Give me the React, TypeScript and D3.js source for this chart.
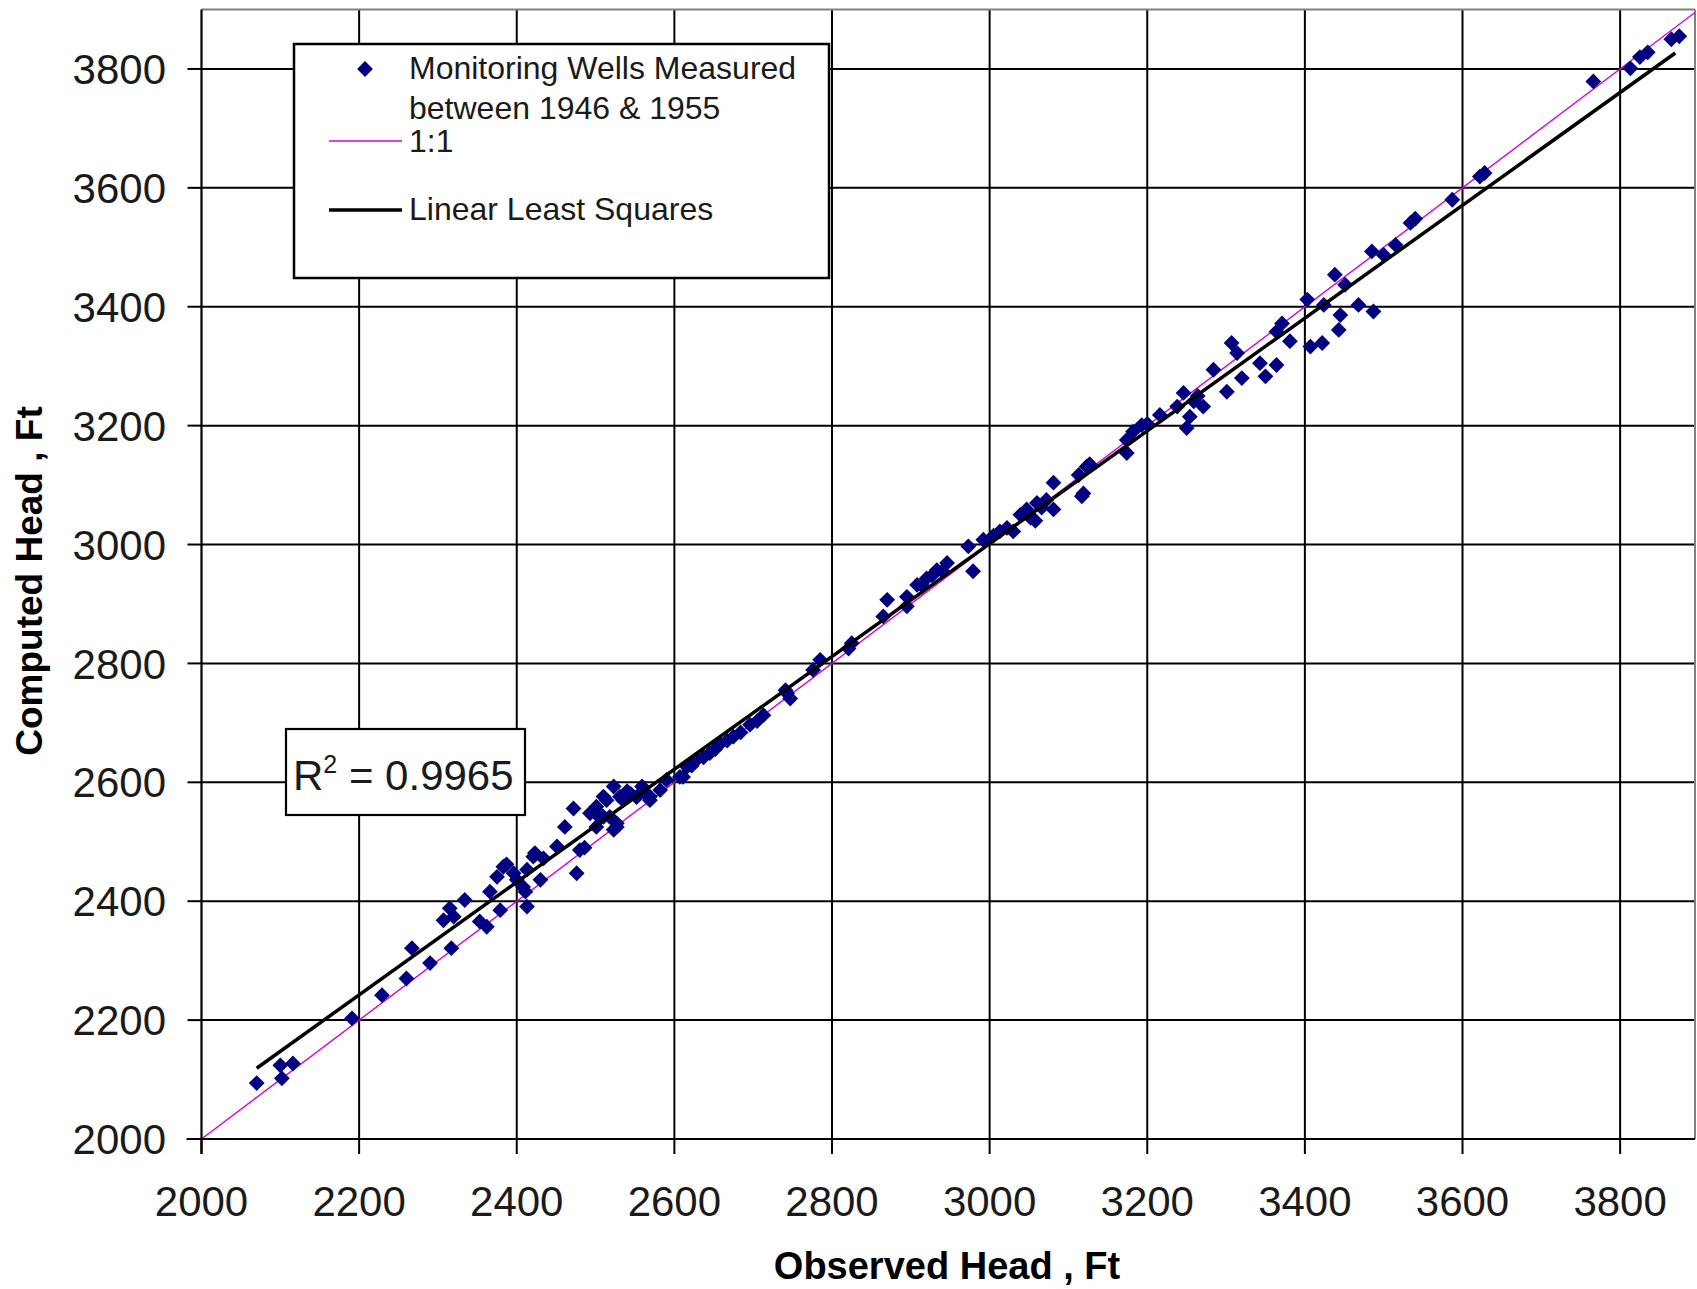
import React from "react";
import * as d3 from "d3";

// Observed head (ft) of each monitoring well
const observed = [
  2070, 2100, 2102, 2116, 2191, 2229, 2260, 2267, 2290, 2307, 2315, 2317, 2320, 2334, 2353,
  2362, 2366, 2375, 2379, 2383, 2387, 2396, 2400, 2408, 2411, 2413, 2413, 2421, 2423, 2430,
  2434, 2451, 2461, 2472, 2476, 2480, 2486, 2493, 2501, 2501, 2501, 2506, 2510, 2510, 2514,
  2518, 2523, 2523, 2527, 2527, 2531, 2535, 2540, 2545, 2552, 2559, 2560, 2569, 2569, 2582,
  2590, 2607, 2611, 2616, 2622, 2628, 2637, 2645, 2652, 2658, 2667, 2675, 2684, 2696, 2705,
  2713, 2741, 2743, 2747, 2776, 2785, 2821, 2825, 2865, 2870, 2895, 2895, 2908, 2915, 2920,
  2927, 2933, 2940, 2946, 2979, 2973, 2992, 3005, 3013, 3022, 3030, 3039, 3047, 3052, 3058,
  3060, 3066, 3072, 3081, 3081, 3113, 3117, 3119, 3123, 3127, 3174, 3174, 3182, 3193, 3200,
  3216, 3238, 3246, 3250, 3254, 3259, 3264, 3271, 3284, 3301, 3307, 3314, 3320, 3343, 3350,
  3364, 3364, 3371, 3381, 3403, 3407, 3422, 3424, 3438, 3443, 3445, 3451, 3468, 3487, 3485,
  3500, 3515, 3534, 3540, 3587, 3622, 3628, 3766, 3813, 3825, 3835, 3865, 3875,
];

// Computed head (ft) of the same wells, in the same order
const computed = [
  2094, 2124, 2102, 2127, 2203, 2242, 2270, 2321, 2296, 2368, 2388, 2321, 2374, 2402, 2366,
  2357, 2416, 2441, 2385, 2458, 2462, 2447, 2436, 2424, 2416, 2391, 2453, 2475, 2481, 2436,
  2472, 2492, 2525, 2556, 2447, 2486, 2490, 2548, 2553, 2525, 2559, 2540, 2542, 2576, 2570,
  2542, 2593, 2520, 2525, 2531, 2576, 2570, 2585, 2580, 2575, 2593, 2585, 2570, 2576, 2587,
  2604, 2609, 2609, 2626, 2628, 2638, 2642, 2649, 2656, 2665, 2670, 2677, 2684, 2697, 2703,
  2713, 2755, 2750, 2741, 2789, 2806, 2825, 2834, 2879, 2907, 2896, 2912, 2932, 2930, 2943,
  2948, 2957, 2955, 2969, 2955, 2997, 3008, 3015, 3022, 3028, 3022, 3050, 3059, 3045, 3040,
  3070, 3062, 3075, 3059, 3104, 3117, 3081, 3086, 3131, 3135, 3154, 3176, 3190, 3201, 3203,
  3218, 3232, 3255, 3196, 3215, 3241, 3250, 3232, 3294, 3257, 3339, 3322, 3280, 3305, 3283,
  3302, 3358, 3372, 3342, 3412, 3333, 3339, 3403, 3454, 3361, 3386, 3437, 3403, 3392, 3493,
  3487, 3504, 3541, 3548, 3580, 3619, 3625, 3779, 3801, 3820, 3828, 3850, 3855,
];

// Linear least squares fit: computed = slope * observed + intercept
const trendSlope = 0.9488;
const trendIntercept = 155;
const rSquared = "0.9965";

const xTicks = [2000, 2200, 2400, 2600, 2800, 3000, 3200, 3400, 3600, 3800];
const yTicks = [2000, 2200, 2400, 2600, 2800, 3000, 3200, 3400, 3600, 3800];

const legendLabels = ["Monitoring Wells Measured", "between 1946 & 1955", "1:1", "Linear Least Squares"];
const xTitle = "Observed Head , Ft";
const yTitle = "Computed Head , Ft";

const W = 1697;
const H = 1289;
const FONT = "Arial, 'Liberation Sans', sans-serif";
const NAVY = "#000080";
const MAGENTA = "#d800d8";

export default function App() {
  const left = 201.5;
  const right = 1695;
  const top = 9.5;
  const bottom = 1139;

  const x = d3.scaleLinear().domain([2000, 3895]).range([left, right]);
  const y = d3.scaleLinear().domain([2000, 3900]).range([bottom, top]);

  const diamond = d3.symbol(d3.symbolSquare, 125)();

  const pts = observed.map((o, i) => [o, computed[i]] as [number, number]);
  const xMin = d3.min(observed) as number;
  const xMax = d3.max(observed) as number;

  const line = d3
    .line<[number, number]>()
    .x((d) => x(d[0]))
    .y((d) => y(d[1]));

  const oneToOne: [number, number][] = [
    [2000, 2000],
    [3895, 3895],
  ];
  const trend: [number, number][] = [
    [xMin, trendSlope * xMin + trendIntercept],
    [xMax - 5, trendSlope * (xMax - 5) + trendIntercept],
  ];

  return (
    <svg
      width={W}
      height={H}
      viewBox={`0 0 ${W} ${H}`}
      style={{ position: "absolute", left: 0, top: 0, background: "#fff" }}
    >
      <rect x={0} y={0} width={W} height={H} fill="#fff" />
      <defs>
        <clipPath id="plotClip">
          <rect x={left} y={top} width={right - left} height={bottom - top} />
        </clipPath>
      </defs>

      {/* gridlines */}
      {xTicks
        .filter((t) => t > 2000)
        .map((t) => (
          <line key={"gx" + t} x1={x(t)} x2={x(t)} y1={top} y2={bottom} stroke="#000" strokeWidth={2} />
        ))}
      {yTicks
        .filter((t) => t > 2000)
        .map((t) => (
          <line key={"gy" + t} x1={left} x2={right} y1={y(t)} y2={y(t)} stroke="#000" strokeWidth={2} />
        ))}

      {/* plot frame */}
      <line x1={left} x2={right} y1={top} y2={top} stroke="#808080" strokeWidth={2} />
      <line x1={right} x2={right} y1={top} y2={bottom} stroke="#808080" strokeWidth={2} />

      <g clipPath="url(#plotClip)">
        <path d={line(oneToOne) || ""} stroke={MAGENTA} strokeWidth={1.4} fill="none" />
        {pts.map((p, i) => (
          <path
            key={"p" + i}
            d={diamond || ""}
            transform={`translate(${x(p[0])},${y(p[1])}) rotate(45)`}
            fill={NAVY}
          />
        ))}
        <path d={line(trend) || ""} stroke="#000" strokeWidth={3.5} fill="none" />
      </g>

      {/* axes */}
      <line x1={left} x2={left} y1={top} y2={bottom + 15} stroke="#000" strokeWidth={2.2} />
      <line x1={left - 15} x2={right} y1={bottom} y2={bottom} stroke="#000" strokeWidth={2.2} />
      {xTicks.map((t) => (
        <g key={"xt" + t}>
          <line x1={x(t)} x2={x(t)} y1={bottom} y2={bottom + 15} stroke="#000" strokeWidth={2} />
          <text x={x(t)} y={1216} textAnchor="middle" fontFamily={FONT} fontSize={42} fill="#1a1a1a">
            {t}
          </text>
        </g>
      ))}
      {yTicks.map((t) => (
        <g key={"yt" + t}>
          <line x1={left - 14} x2={left} y1={y(t)} y2={y(t)} stroke="#000" strokeWidth={2} />
          <text
            x={166}
            y={y(t)}
            dy="0.36em"
            textAnchor="end"
            fontFamily={FONT}
            fontSize={42}
            fill="#1a1a1a"
          >
            {t}
          </text>
        </g>
      ))}

      {/* axis titles */}
      <text x={947} y={1279} textAnchor="middle" fontFamily={FONT} fontWeight="bold" fontSize={38} fill="#000">
        {xTitle}
      </text>
      <text
        transform={`translate(42,581) rotate(-90)`}
        textAnchor="middle"
        fontFamily={FONT}
        fontWeight="bold"
        fontSize={37}
        fill="#000"
      >
        {yTitle}
      </text>

      {/* legend */}
      <g>
        <rect x={294} y={44} width={535} height={234} fill="#fff" stroke="#000" strokeWidth={2.5} />
        <path d={diamond || ""} transform="translate(365,69) rotate(45)" fill={NAVY} />
        <text x={409} y={79} fontFamily={FONT} fontSize={32} fill="#1a1a1a">
          {legendLabels[0]}
        </text>
        <text x={409} y={119} fontFamily={FONT} fontSize={32} fill="#1a1a1a">
          {legendLabels[1]}
        </text>
        <line x1={329} x2={402} y1={141} y2={141} stroke={MAGENTA} strokeWidth={1.6} />
        <text x={409} y={152} fontFamily={FONT} fontSize={32} fill="#1a1a1a">
          {legendLabels[2]}
        </text>
        <line x1={329} x2={402} y1={210} y2={210} stroke="#000" strokeWidth={3.5} />
        <text x={409} y={220} fontFamily={FONT} fontSize={32} fill="#1a1a1a">
          {legendLabels[3]}
        </text>
      </g>

      {/* R squared box */}
      <g>
        <rect x={286} y={729} width={239} height={86} fill="#fff" stroke="#000" strokeWidth={2.2} />
        <text x={293} y={790} fontFamily={FONT} fontSize={42} fill="#1a1a1a">
          R
          <tspan fontSize={25} dy={-17}>
            2
          </tspan>
          <tspan dy={17}>{" = " + rSquared}</tspan>
        </text>
      </g>
    </svg>
  );
}
